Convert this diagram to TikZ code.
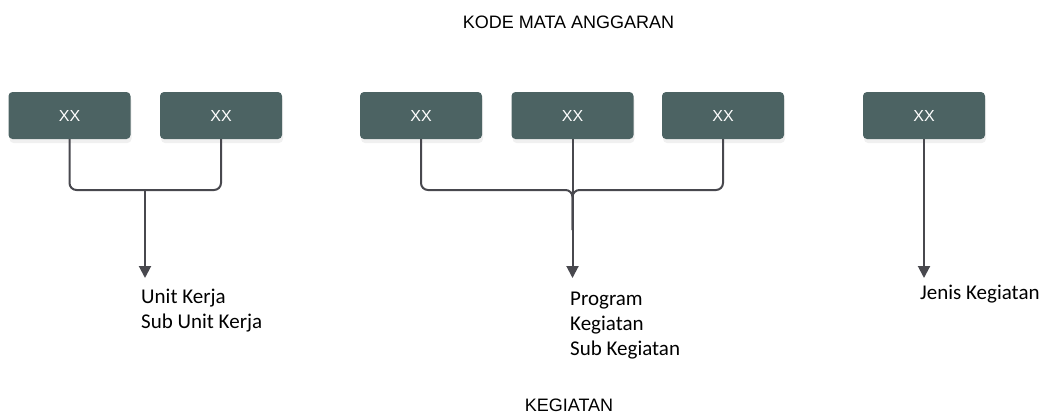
\documentclass[tikz,border=0pt]{standalone}
\usepackage{fontspec}
\setmainfont{Liberation Sans}
\newfontfamily\labelfont{Carlito}
\usetikzlibrary{arrows.meta,shadows}

\definecolor{boxfill}{RGB}{76,99,99}
\definecolor{linegray}{RGB}{72,72,78}

\tikzstyle{code}=[fill=boxfill, rounded corners=4pt, minimum width=122pt, minimum height=47pt,
  text=white, font=\fontsize{16}{18}\selectfont,
  drop shadow={opacity=0.12, shadow xshift=1pt, shadow yshift=-4pt}]
\tikzstyle{link}=[line width=2pt, draw=linegray, rounded corners=7pt]
\tikzstyle{arrow}=[link, -{Triangle[width=12pt,length=12pt]}]
\tikzstyle{desc}=[anchor=north west, inner sep=0pt, align=left, font=\labelfont\fontsize{21}{25}\selectfont]
\tikzstyle{title}=[inner sep=0pt, font=\fontsize{18}{22}\selectfont]

\begin{document}
\begin{tikzpicture}[x=1pt, y=-1pt]
      \useasboundingbox (0, 0) rectangle (1046, 416);

      \node[title] (top) at (568.5, 22) {KODE MATA ANGGARAN};
      \node[title] (bottom) at (569, 405.5) {KEGIATAN};

      \node[code] (a) at (69.5, 115.5) {XX};
      \node[code] (b) at (221, 115.5) {XX};
      \node[code] (c) at (421, 115.5) {XX};
      \node[code] (d) at (572.5, 115.5) {XX};
      \node[code] (e) at (723, 115.5) {XX};
      \node[code] (f) at (924, 115.5) {XX};

      \coordinate (j1) at (145, 190);
      \coordinate (e1) at (145, 278);
      \coordinate (j2) at (572.5, 190);
      \coordinate (m2) at (572.5, 230);
      \coordinate (e2) at (572.5, 278);
      \coordinate (e3) at (924, 278);

      \node[desc] (unit) at (141, 289) {Unit Kerja\\Sub Unit Kerja};
      \node[desc] (prog) at (570, 292) {Program\\Kegiatan\\Sub Kegiatan};
      \node[desc] (jenis) at (920, 285) {Jenis Kegiatan};

      \draw[link] (a.south) |- (j1) -| (b.south);
      \draw[arrow] (j1) -- (e1);

      \draw[link] (c.south) |- (j2) -- (m2);
      \draw[link] (e.south) |- (j2) -- (m2);
      \draw[arrow] (d.south) -- (e2);

      \draw[arrow] (f.south) -- (e3);
    \end{tikzpicture}
\end{document}
